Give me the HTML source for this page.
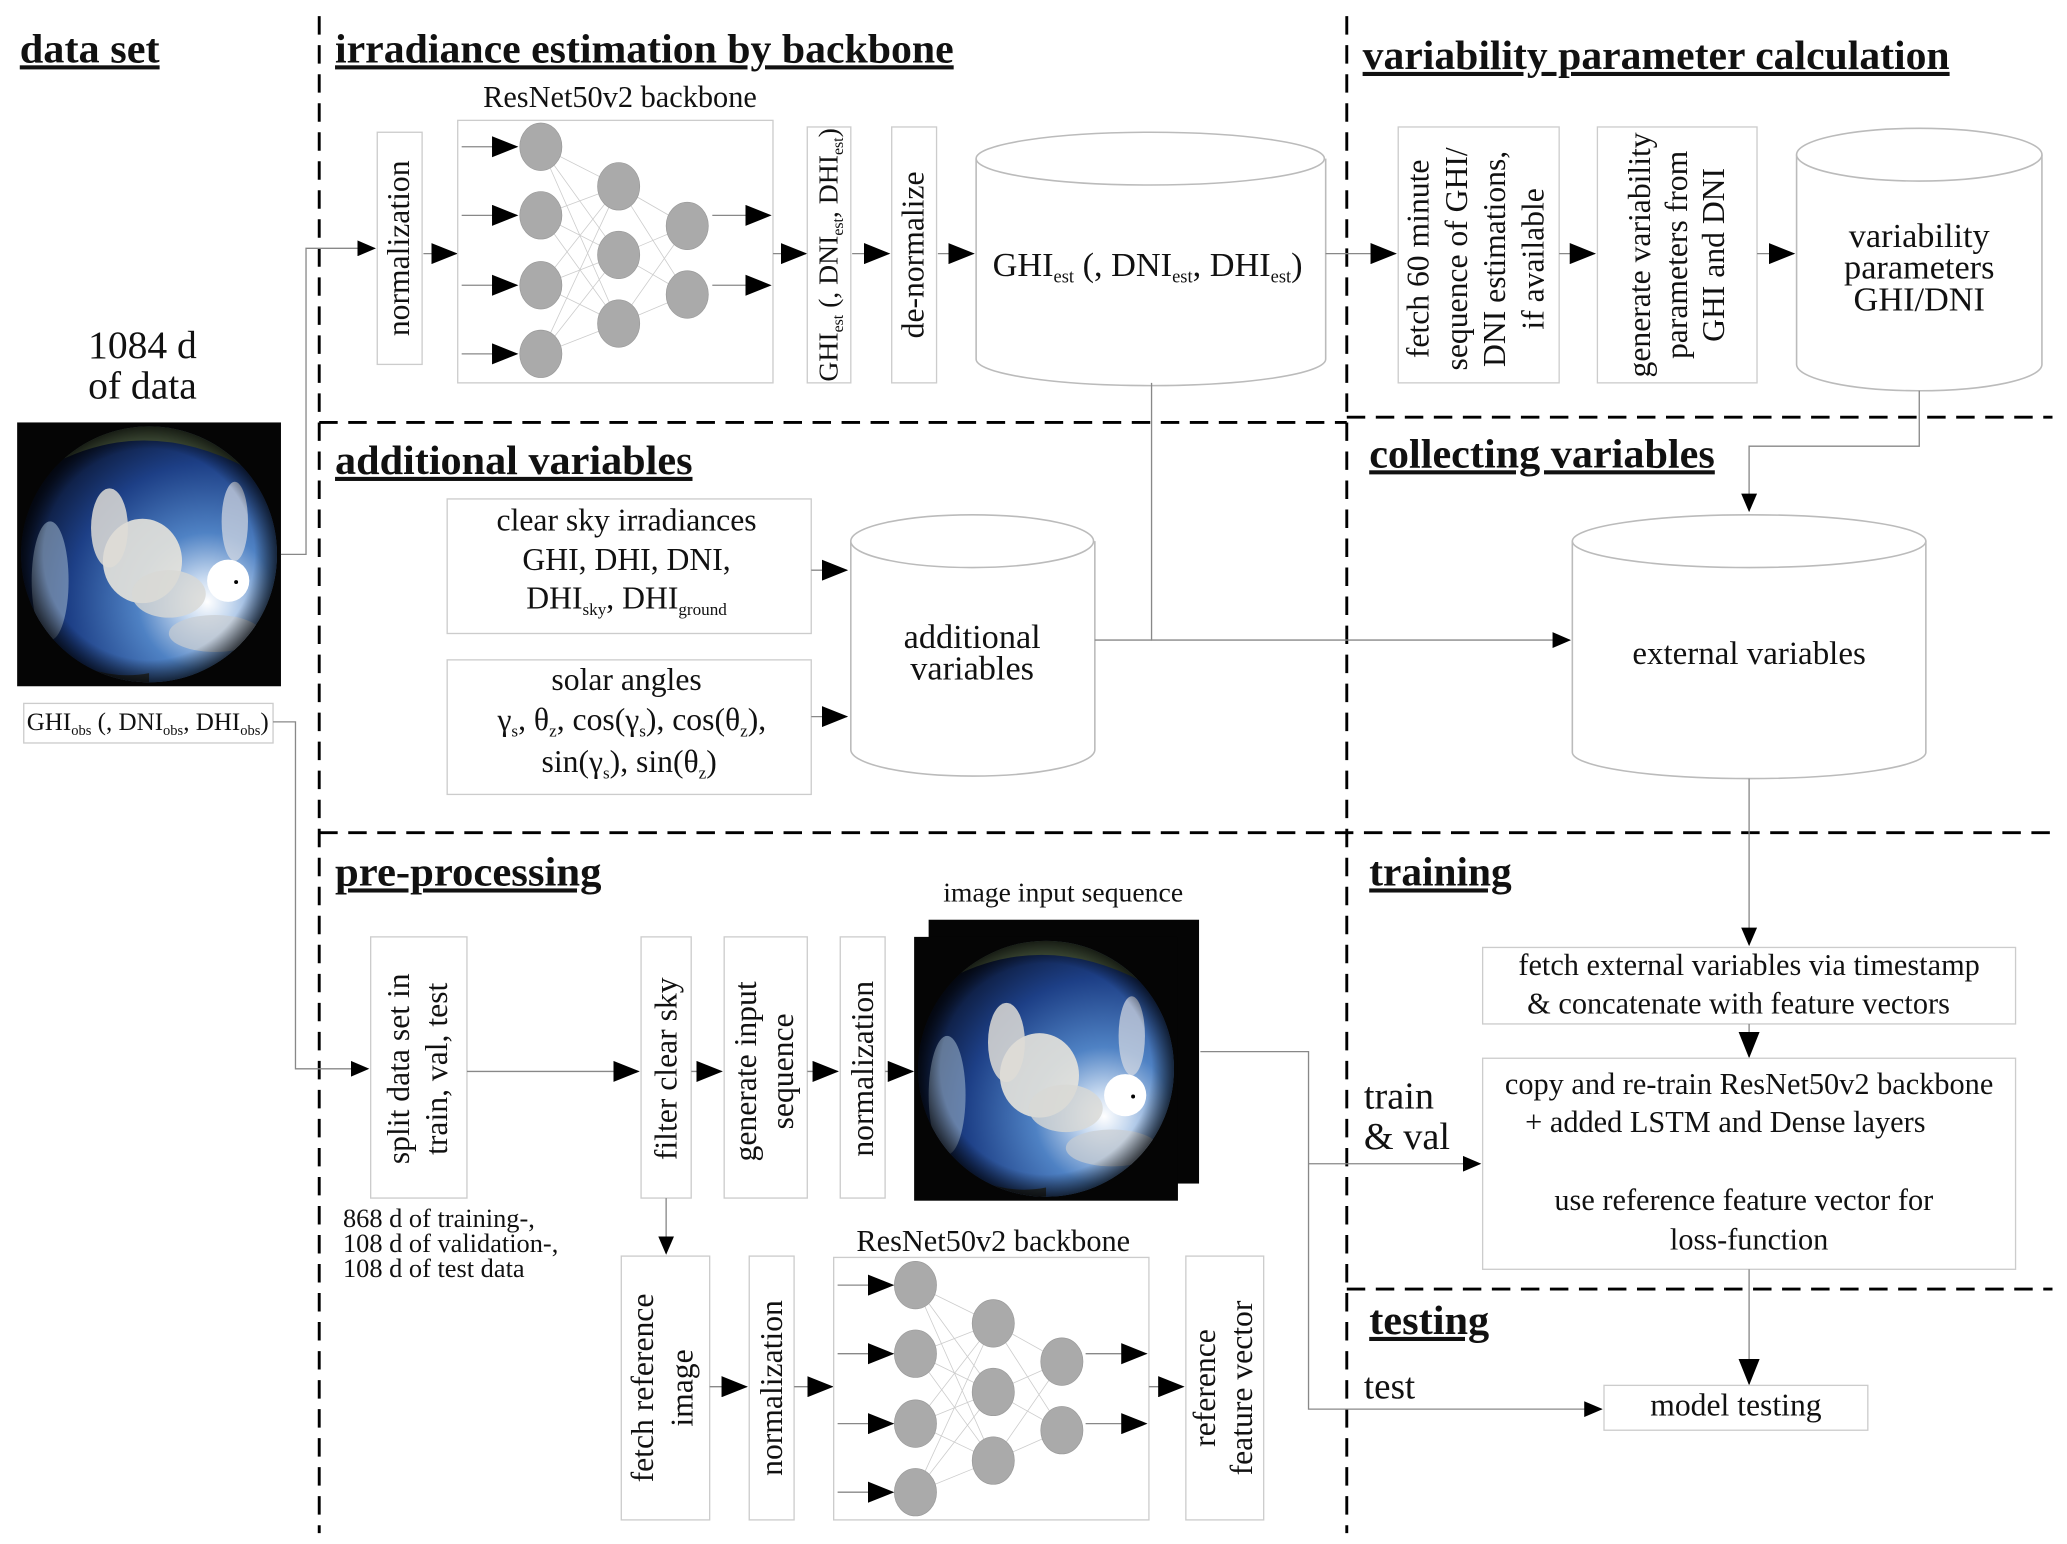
<!DOCTYPE html>
<html><head><meta charset="utf-8"><style>
html,body{margin:0;padding:0;background:#fff;}
svg{display:block;}
text{font-family:"Liberation Serif",serif;fill:#111;}
.t{font-weight:bold;font-size:31px;text-decoration:underline;}
.box{fill:#fff;stroke:#ccc;stroke-width:1;}
.ln{stroke:#888;stroke-width:1;fill:none;}
.dash{stroke:#000;stroke-width:2.2;stroke-dasharray:14,8;fill:none;}
.n{fill:#aaa;stroke:#999;stroke-width:0.5;}
.cyl{fill:#fff;stroke:#bbb;stroke-width:1.2;}
</style></head><body>
<svg width="2067" height="1544" viewBox="0 0 1567 1170" xmlns="http://www.w3.org/2000/svg">
<defs>
<marker id="a" markerUnits="userSpaceOnUse" markerWidth="20" markerHeight="16" refX="19" refY="8" orient="auto"><path d="M0,0 L20,8 L0,16 z" fill="#000"/></marker>
<marker id="s" markerUnits="userSpaceOnUse" markerWidth="14" markerHeight="12" refX="13" refY="6" orient="auto"><path d="M0,0 L14,6 L0,12 z" fill="#000"/></marker>
<radialGradient id="sky" cx="0.72" cy="0.68" r="0.75"><stop offset="0" stop-color="#ffffff"/><stop offset="0.12" stop-color="#c8daf0"/><stop offset="0.35" stop-color="#4f82c4"/><stop offset="0.7" stop-color="#1d3f86"/><stop offset="1" stop-color="#0a1530"/></radialGradient>
<radialGradient id="vig" cx="0.5" cy="0.5" r="0.5"><stop offset="0.8" stop-color="#000" stop-opacity="0"/><stop offset="1" stop-color="#000" stop-opacity="0.8"/></radialGradient>
<clipPath id="cc"><circle cx="100" cy="100" r="97"/></clipPath>
<g id="photo">
<rect x="0" y="0" width="200" height="200" fill="#050505"/>
<g clip-path="url(#cc)">
<rect x="0" y="0" width="200" height="200" fill="url(#sky)"/>
<ellipse cx="95" cy="105" rx="30" ry="32" fill="#e6e3dc" opacity="0.9"/>
<ellipse cx="70" cy="80" rx="14" ry="30" fill="#dedcd6" opacity="0.85"/>
<ellipse cx="115" cy="130" rx="28" ry="18" fill="#d8d8d4" opacity="0.8"/>
<ellipse cx="150" cy="160" rx="35" ry="14" fill="#c9cdd2" opacity="0.7"/>
<ellipse cx="25" cy="120" rx="14" ry="45" fill="#9ab0c8" opacity="0.6"/>
<ellipse cx="165" cy="75" rx="10" ry="30" fill="#d8dce2" opacity="0.7"/>
<circle cx="160" cy="120" r="16" fill="#fff"/>
<path d="M0,150 Q50,200 100,190 L100,200 L0,200z" fill="#2a2a22" opacity="0.8"/>
<path d="M30,30 Q100,-5 175,35 L175,20 Q100,-20 25,15z" fill="#4a5a40"/>
<rect x="0" y="0" width="200" height="200" fill="url(#vig)"/>
</g>
<circle cx="166" cy="121" r="1.5" fill="#000"/>
</g>
</defs>

<!-- dashed separators -->
<line class="dash" x1="242" y1="12" x2="242" y2="1162"/>
<line class="dash" x1="1021" y1="12" x2="1021" y2="1162"/>
<line class="dash" x1="242" y1="320" x2="1021" y2="320"/>
<line class="dash" x1="1021" y1="316" x2="1556" y2="316"/>
<line class="dash" x1="242" y1="631" x2="1556" y2="631"/>
<line class="dash" x1="1021" y1="977" x2="1556" y2="977"/>

<!-- titles -->
<text class="t" x="15" y="47" textLength="106" lengthAdjust="spacingAndGlyphs">data set</text>
<text class="t" x="254" y="47" textLength="469" lengthAdjust="spacingAndGlyphs">irradiance estimation by backbone</text>
<text class="t" x="1033" y="52" textLength="445" lengthAdjust="spacingAndGlyphs">variability parameter calculation</text>
<text class="t" x="254" y="359" textLength="271" lengthAdjust="spacingAndGlyphs">additional variables</text>
<text class="t" x="1038" y="354" textLength="262" lengthAdjust="spacingAndGlyphs">collecting variables</text>
<text class="t" x="254" y="671" textLength="202" lengthAdjust="spacingAndGlyphs">pre-processing</text>
<text class="t" x="1038" y="671" textLength="108" lengthAdjust="spacingAndGlyphs">training</text>
<text class="t" x="1038" y="1011" textLength="91" lengthAdjust="spacingAndGlyphs">testing</text>

<!-- data set -->
<text x="108" y="271" font-size="30" text-anchor="middle">1084 d</text>
<text x="108" y="302" font-size="30" text-anchor="middle">of data</text>
<use href="#photo" transform="translate(13,320)"/>
<rect class="box" x="18" y="533" width="189" height="30"/>
<text x="112" y="553" font-size="19" text-anchor="middle">GHI<tspan font-size="11" dy="4">obs</tspan><tspan dy="-4"> (, DNI</tspan><tspan font-size="11" dy="4">obs</tspan><tspan dy="-4">, DHI</tspan><tspan font-size="11" dy="4">obs</tspan><tspan dy="-4">)</tspan></text>

<!-- connectors from data set -->
<polyline class="ln" points="213,420 232,420 232,188 284,188" marker-end="url(#s)"/>
<polyline class="ln" points="207,547 224,547 224,810 279,810" marker-end="url(#s)"/>

<!-- irradiance row -->
<rect class="box" x="286" y="100" width="34" height="176"/>
<text transform="translate(310,188) rotate(-90)" font-size="24" text-anchor="middle">normalization</text>
<line class="ln" x1="321" y1="192" x2="346" y2="192" marker-end="url(#a)"/>
<rect class="box" x="347" y="91" width="239" height="199"/>
<text x="470" y="81" font-size="23" text-anchor="middle">ResNet50v2 backbone</text>
<g stroke="#ccc" stroke-width="0.6">
<path d="M410,111 L469,141 M410,111 L469,193 M410,111 L469,245 M410,163 L469,141 M410,163 L469,193 M410,163 L469,245 M410,216 L469,141 M410,216 L469,193 M410,216 L469,245 M410,268 L469,141 M410,268 L469,193 M410,268 L469,245 M469,141 L521,171 M469,141 L521,223 M469,193 L521,171 M469,193 L521,223 M469,245 L521,171 M469,245 L521,223"/>
</g>
<g class="ln"><line x1="350" y1="111" x2="392" y2="111" marker-end="url(#a)"/><line x1="350" y1="163" x2="392" y2="163" marker-end="url(#a)"/><line x1="350" y1="216" x2="392" y2="216" marker-end="url(#a)"/><line x1="350" y1="268" x2="392" y2="268" marker-end="url(#a)"/>
<line x1="540" y1="163" x2="584" y2="163" marker-end="url(#a)"/><line x1="540" y1="216" x2="584" y2="216" marker-end="url(#a)"/></g>
<g class="n"><ellipse cx="410" cy="111" rx="16" ry="18"/><ellipse cx="410" cy="163" rx="16" ry="18"/><ellipse cx="410" cy="216" rx="16" ry="18"/><ellipse cx="410" cy="268" rx="16" ry="18"/>
<ellipse cx="469" cy="141" rx="16" ry="18"/><ellipse cx="469" cy="193" rx="16" ry="18"/><ellipse cx="469" cy="245" rx="16" ry="18"/>
<ellipse cx="521" cy="171" rx="16" ry="18"/><ellipse cx="521" cy="223" rx="16" ry="18"/></g>
<line class="ln" x1="586" y1="192" x2="611" y2="192" marker-end="url(#a)"/>
<rect class="box" x="612" y="96" width="33" height="194"/>
<text transform="translate(635,193) rotate(-90)" font-size="21" text-anchor="middle">GHI<tspan font-size="12" dy="4">est</tspan><tspan dy="-4"> (, DNI</tspan><tspan font-size="12" dy="4">est</tspan><tspan dy="-4">, DHI</tspan><tspan font-size="12" dy="4">est</tspan><tspan dy="-4">)</tspan></text>
<line class="ln" x1="646" y1="192" x2="674" y2="192" marker-end="url(#a)"/>
<rect class="box" x="676" y="96" width="34" height="194"/>
<text transform="translate(700,193) rotate(-90)" font-size="24" text-anchor="middle">de-normalize</text>
<line class="ln" x1="711" y1="192" x2="738" y2="192" marker-end="url(#a)"/>
<path class="cyl" d="M740,120 L740,272 A132,20 0 0 0 1005,272 L1005,120"/>
<ellipse class="cyl" cx="872" cy="120" rx="132" ry="20"/>
<text x="870" y="209" font-size="26" text-anchor="middle">GHI<tspan font-size="14" dy="5">est</tspan><tspan dy="-5"> (, DNI</tspan><tspan font-size="14" dy="5">est</tspan><tspan dy="-5">, DHI</tspan><tspan font-size="14" dy="5">est</tspan><tspan dy="-5">)</tspan></text>
<line class="ln" x1="1005" y1="192" x2="1058" y2="192" marker-end="url(#a)"/>
<rect class="box" x="1060" y="96" width="122" height="194"/>
<g font-size="24" text-anchor="middle">
<text transform="translate(1083,196) rotate(-90)">fetch 60 minute</text>
<text transform="translate(1112,196) rotate(-90)">sequence of GHI/</text>
<text transform="translate(1141,196) rotate(-90)">DNI estimations,</text>
<text transform="translate(1170,196) rotate(-90)">if available</text>
</g>
<line class="ln" x1="1182" y1="192" x2="1209" y2="192" marker-end="url(#a)"/>
<rect class="box" x="1211" y="96" width="121" height="194"/>
<g font-size="24" text-anchor="middle">
<text transform="translate(1251,193) rotate(-90)">generate variability</text>
<text transform="translate(1279,193) rotate(-90)">parameters from</text>
<text transform="translate(1307,193) rotate(-90)">GHI and DNI</text>
</g>
<line class="ln" x1="1332" y1="192" x2="1360" y2="192" marker-end="url(#a)"/>
<path class="cyl" d="M1362,117 L1362,276 A93,20 0 0 0 1548,276 L1548,117"/>
<ellipse class="cyl" cx="1455" cy="117" rx="93" ry="20"/>
<g font-size="26" text-anchor="middle"><text x="1455" y="187">variability</text><text x="1455" y="211">parameters</text><text x="1455" y="235">GHI/DNI</text></g>
<polyline class="ln" points="1455,296 1455,338 1326,338 1326,387" marker-end="url(#s)"/>

<!-- additional variables -->
<rect class="box" x="339" y="378" width="276" height="102"/>
<g font-size="24" text-anchor="middle"><text x="475" y="402">clear sky irradiances</text><text x="475" y="432">GHI, DHI, DNI,</text>
<text x="475" y="461">DHI<tspan font-size="13" dy="5">sky</tspan><tspan dy="-5">, DHI</tspan><tspan font-size="13" dy="5">ground</tspan></text></g>
<line class="ln" x1="615" y1="432" x2="642" y2="432" marker-end="url(#a)"/>
<rect class="box" x="339" y="500" width="276" height="102"/>
<g font-size="24" text-anchor="middle"><text x="475" y="523">solar angles</text>
<text x="479" y="553">γ<tspan font-size="13" dy="5">s</tspan><tspan dy="-5">, θ</tspan><tspan font-size="13" dy="5">z</tspan><tspan dy="-5">, cos(γ</tspan><tspan font-size="13" dy="5">s</tspan><tspan dy="-5">), cos(θ</tspan><tspan font-size="13" dy="5">z</tspan><tspan dy="-5">),</tspan></text>
<text x="477" y="585">sin(γ<tspan font-size="13" dy="5">s</tspan><tspan dy="-5">), sin(θ</tspan><tspan font-size="13" dy="5">z</tspan><tspan dy="-5">)</tspan></text></g>
<line class="ln" x1="615" y1="543" x2="642" y2="543" marker-end="url(#a)"/>
<path class="cyl" d="M645,410 L645,568 A92,20 0 0 0 830,568 L830,410"/>
<ellipse class="cyl" cx="737" cy="410" rx="92" ry="20"/>
<g font-size="26" text-anchor="middle"><text x="737" y="491">additional</text><text x="737" y="515">variables</text></g>
<polyline class="ln" points="873,290 873,485 1190,485" marker-end="url(#s)"/>
<line class="ln" x1="830" y1="485" x2="873" y2="485"/>

<!-- external variables -->
<path class="cyl" d="M1192,410 L1192,570 A134,20 0 0 0 1460,570 L1460,410"/>
<ellipse class="cyl" cx="1326" cy="410" rx="134" ry="20"/>
<text x="1326" y="503" font-size="25" text-anchor="middle">external variables</text>
<line class="ln" x1="1326" y1="590" x2="1326" y2="716" marker-end="url(#s)"/>

<!-- training -->
<rect class="box" x="1124" y="718" width="404" height="58"/>
<g font-size="23" text-anchor="middle"><text x="1326" y="739">fetch external variables via timestamp</text><text x="1318" y="768">&amp; concatenate with feature vectors</text></g>
<line class="ln" x1="1326" y1="776" x2="1326" y2="801" marker-end="url(#a)"/>
<rect class="box" x="1124" y="802" width="404" height="160"/>
<g font-size="23" text-anchor="middle"><text x="1326" y="829">copy and re-train ResNet50v2 backbone</text><text x="1308" y="858">+ added LSTM and Dense layers</text>
<text x="1322" y="917">use reference feature vector for</text><text x="1326" y="947">loss-function</text></g>
<line class="ln" x1="1326" y1="962" x2="1326" y2="1049" marker-end="url(#a)"/>
<text x="1034" y="840" font-size="29">train</text>
<text x="1034" y="871" font-size="29">&amp; val</text>
<text x="1034" y="1060" font-size="28">test</text>
<rect class="box" x="1216" y="1050" width="200" height="34"/>
<text x="1316" y="1073" font-size="24" text-anchor="middle">model testing</text>

<!-- pre-processing -->
<rect class="box" x="281" y="710" width="73" height="198"/>
<g font-size="24" text-anchor="middle"><text transform="translate(310,810) rotate(-90)">split data set in</text><text transform="translate(339,810) rotate(-90)">train, val, test</text></g>
<g font-size="20"><text x="260" y="930">868 d  of training-,</text><text x="260" y="949">108 d  of validation-,</text><text x="260" y="968">108 d  of test data</text></g>
<line class="ln" x1="354" y1="812" x2="484" y2="812" marker-end="url(#a)"/>
<rect class="box" x="486" y="710" width="38" height="198"/>
<text transform="translate(513,810) rotate(-90)" font-size="24" text-anchor="middle">filter clear sky</text>
<line class="ln" x1="524" y1="812" x2="547" y2="812" marker-end="url(#a)"/>
<rect class="box" x="549" y="710" width="63" height="198"/>
<g font-size="24" text-anchor="middle"><text transform="translate(573,812) rotate(-90)">generate input</text><text transform="translate(601,812) rotate(-90)">sequence</text></g>
<line class="ln" x1="612" y1="812" x2="635" y2="812" marker-end="url(#a)"/>
<rect class="box" x="637" y="710" width="34" height="198"/>
<text transform="translate(662,810) rotate(-90)" font-size="24" text-anchor="middle">normalization</text>
<line class="ln" x1="671" y1="812" x2="692" y2="812" marker-end="url(#a)"/>
<text x="806" y="683" font-size="21" text-anchor="middle">image input sequence</text>
<rect x="704" y="697" width="205" height="200" fill="#050505"/>
<use href="#photo" transform="translate(693,710)"/>
<polyline class="ln" points="910,797 992,797 992,1068 1214,1068" marker-end="url(#s)"/>
<line class="ln" x1="992" y1="882" x2="1122" y2="882" marker-end="url(#s)"/>
<line class="ln" x1="505" y1="908" x2="505" y2="950" marker-end="url(#s)"/>

<rect class="box" x="471" y="952" width="67" height="200"/>
<g font-size="24" text-anchor="middle"><text transform="translate(495,1052) rotate(-90)">fetch reference</text><text transform="translate(525,1052) rotate(-90)">image</text></g>
<line class="ln" x1="538" y1="1051" x2="566" y2="1051" marker-end="url(#a)"/>
<rect class="box" x="568" y="952" width="34" height="200"/>
<text transform="translate(593,1052) rotate(-90)" font-size="24" text-anchor="middle">normalization</text>
<line class="ln" x1="602" y1="1051" x2="631" y2="1051" marker-end="url(#a)"/>
<text x="753" y="948" font-size="23" text-anchor="middle">ResNet50v2 backbone</text>
<rect class="box" x="632" y="953" width="239" height="199"/>
<g stroke="#ccc" stroke-width="0.6">
<path d="M694,974 L753,1003 M694,974 L753,1055 M694,974 L753,1107 M694,1026 L753,1003 M694,1026 L753,1055 M694,1026 L753,1107 M694,1079 L753,1003 M694,1079 L753,1055 M694,1079 L753,1107 M694,1131 L753,1003 M694,1131 L753,1055 M694,1131 L753,1107 M753,1003 L805,1032 M753,1003 L805,1084 M753,1055 L805,1032 M753,1055 L805,1084 M753,1107 L805,1032 M753,1107 L805,1084"/>
</g>
<g class="ln"><line x1="635" y1="974" x2="677" y2="974" marker-end="url(#a)"/><line x1="635" y1="1026" x2="677" y2="1026" marker-end="url(#a)"/><line x1="635" y1="1079" x2="677" y2="1079" marker-end="url(#a)"/><line x1="635" y1="1131" x2="677" y2="1131" marker-end="url(#a)"/>
<line x1="823" y1="1026" x2="869" y2="1026" marker-end="url(#a)"/><line x1="823" y1="1079" x2="869" y2="1079" marker-end="url(#a)"/></g>
<g class="n"><ellipse cx="694" cy="974" rx="16" ry="18"/><ellipse cx="694" cy="1026" rx="16" ry="18"/><ellipse cx="694" cy="1079" rx="16" ry="18"/><ellipse cx="694" cy="1131" rx="16" ry="18"/>
<ellipse cx="753" cy="1003" rx="16" ry="18"/><ellipse cx="753" cy="1055" rx="16" ry="18"/><ellipse cx="753" cy="1107" rx="16" ry="18"/>
<ellipse cx="805" cy="1032" rx="16" ry="18"/><ellipse cx="805" cy="1084" rx="16" ry="18"/></g>
<line class="ln" x1="871" y1="1051" x2="897" y2="1051" marker-end="url(#a)"/>
<rect class="box" x="899" y="952" width="59" height="200"/>
<g font-size="24" text-anchor="middle"><text transform="translate(921,1052) rotate(-90)">reference</text><text transform="translate(949,1052) rotate(-90)">feature vector</text></g>
</svg>
</body></html>
